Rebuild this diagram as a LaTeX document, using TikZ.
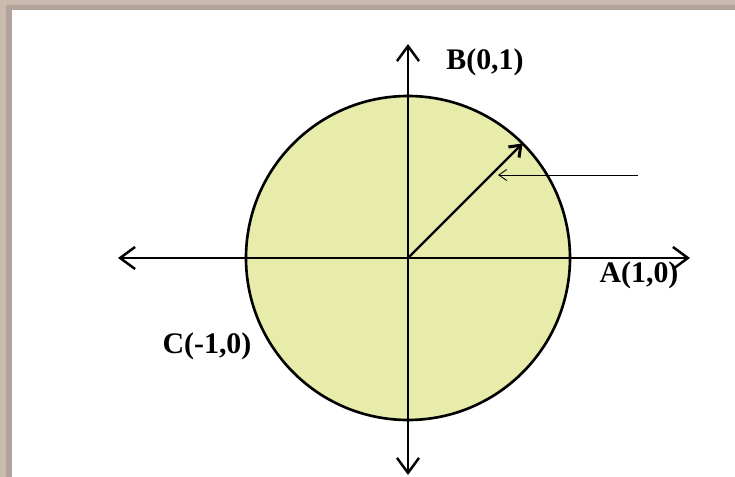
\documentclass[tikz,border=0pt]{standalone}
\usepackage{fontspec}
\setmainfont{Liberation Serif}
\usetikzlibrary{arrows.meta}
\definecolor{discfill}{RGB}{231,236,170}
\definecolor{frameout}{RGB}{202,186,174}
\definecolor{framein}{RGB}{178,164,154}
\tikzstyle{axis} = [
    line width=1.7pt,
    {Straight Barb[length=0.3cm,width=0.44cm,line width=1.4pt]}-{Straight Barb[length=0.3cm,width=0.44cm,line width=1.4pt]}
]
\tikzstyle{radius} = [
    line width=1.3pt,
    -{Straight Barb[length=0.2cm,width=0.3cm,line width=1.7pt]}
]
\tikzstyle{pointer} = [
    line width=0.5pt,
    -{Straight Barb[length=0.16cm,width=0.22cm]}
]
\tikzstyle{pointlabel} = [
    font=\fontsize{17}{17}\selectfont\bfseries,
    inner sep=0pt
]

\begin{document}
\begin{tikzpicture}[x=0.02cm,y=0.02cm]

\useasboundingbox (0,0) rectangle (735,477);

% frame
\fill[white] (0,0) rectangle (735,477);
\fill[frameout] (0,467) rectangle (735,477);
\fill[frameout] (0,0) rectangle (12,477);
\fill[framein] (6,467) rectangle (735,472);
\fill[framein] (6,0) rectangle (12,472);

\coordinate (O) at (408,219);

% unit circle
\draw[line width=1.5pt, fill=discfill] (O) circle (162);

\coordinate (west) at (118,219);
\coordinate (east) at (690,219);
\coordinate (north) at (408,433);
\coordinate (south) at (408,2);
\coordinate (P) at ([shift={(45:162)}]O);
\coordinate (ray) at (638,302);
\coordinate (hit) at (498,302);

\draw [axis] (west) -- (east);
\draw [axis] (south) -- (north);
\draw [radius] (O) -- (P);
\draw [pointer] (ray) -- (hit);

\node (B) [pointlabel] at (485,415) {B(0,1)};
\node (A) [pointlabel] at (639,202) {A(1,0)};
\node (C) [pointlabel] at (207,131) {C(-1,0)};

\end{tikzpicture}
\end{document}
